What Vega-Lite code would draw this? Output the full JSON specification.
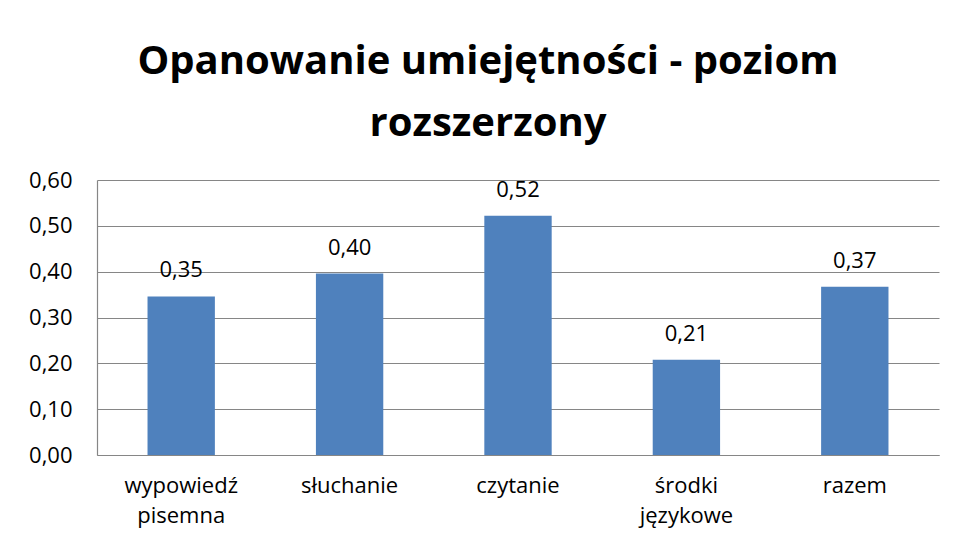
{
  "$schema": "https://vega.github.io/schema/vega-lite/v6.json",
  "width": 842,
  "height": 275,
  "autosize": {"type": "none"},
  "padding": {"left": 97, "top": 180, "right": 18, "bottom": 94},
  "background": "white",
  "title": {
    "text": ["Opanowanie umiejętności - poziom", "rozszerzony"],
    "font": "Open Sans",
    "fontSize": 40,
    "fontWeight": "bold",
    "color": "#000000",
    "lineHeight": 62,
    "anchor": "middle",
    "dx": -30,
    "offset": 25
  },
  "data": {
    "values": [
      {"kategoria": "wypowiedź pisemna", "wartosc": 0.346},
      {"kategoria": "słuchanie", "wartosc": 0.396},
      {"kategoria": "czytanie", "wartosc": 0.522},
      {"kategoria": "środki językowe", "wartosc": 0.208},
      {"kategoria": "razem", "wartosc": 0.367}
    ]
  },
  "encoding": {
    "x": {
      "field": "kategoria",
      "type": "nominal",
      "sort": null,
      "scale": {"paddingInner": 0.6, "paddingOuter": 0.3},
      "axis": {
        "title": null,
        "labelAngle": 0,
        "labelExpr": "split(datum.label, ' ')",
        "labelFont": "Open Sans",
        "labelFontSize": 22,
        "labelColor": "#000000",
        "labelLineHeight": 30,
        "labelPadding": 20,
        "ticks": false,
        "domainColor": "#868686",
        "domainWidth": 1.2,
        "grid": false
      }
    },
    "y": {
      "field": "wartosc",
      "type": "quantitative",
      "scale": {"domain": [0, 0.6], "nice": false},
      "axis": {
        "title": null,
        "values": [0, 0.1, 0.2, 0.3, 0.4, 0.5, 0.6],
        "labelExpr": "replace(format(datum.value, '.2f'), '.', ',')",
        "labelFont": "Open Sans",
        "labelFontSize": 22,
        "labelColor": "#000000",
        "labelPadding": 25,
        "ticks": false,
        "domainColor": "#868686",
        "domainWidth": 1.2,
        "gridColor": "#868686",
        "gridWidth": 1.2,
        "gridOpacity": 1
      }
    }
  },
  "layer": [
    {"mark": {"type": "bar", "color": "#4F81BD"}},
    {
      "mark": {"type": "text", "font": "Open Sans", "fontSize": 22, "color": "#000000", "baseline": "alphabetic", "dy": -19},
      "encoding": {
        "text": {"field": "wartosc", "type": "quantitative", "format": ".2f"}
      }
    }
  ],
  "config": {
    "view": {"stroke": null},
    "locale": {"number": {"decimal": ",", "thousands": " ", "grouping": [3], "currency": ["", " zł"]}}
  }
}
